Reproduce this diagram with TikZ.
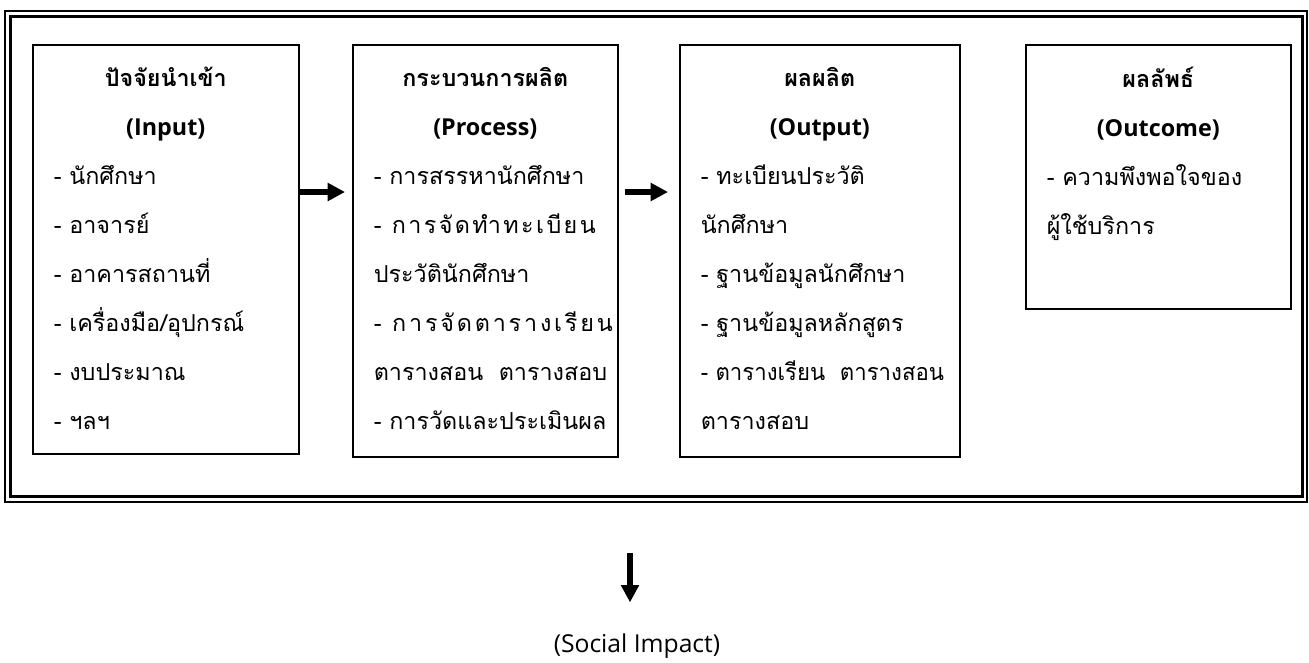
\documentclass[tikz,border=0pt]{standalone}
\usepackage{fontspec}
\usepackage{graphicx}
\setmainfont{Loma}[Script=Thai]
\newfontfamily\latin{Open Sans}
\usetikzlibrary{positioning,arrows.meta}
\newcommand{\punkt}[1]{\mbox{-~#1}}
\newcommand{\kopf}[1]{\hspace*{\fill}\textbf{#1}\hspace*{\fill}\mbox{}}
\tikzset{
  box/.style={draw, line width=1.2pt, inner sep=0pt, anchor=north west},
  boxtext/.style={inner sep=0pt, align=left, anchor=north,
    font=\fontsize{17.5}{36.75}\selectfont},
  flow/.style={-{Triangle[length=13pt,width=13pt]}, line width=5pt},
}
\begin{document}
\begin{tikzpicture}[x=0.75pt,y=-0.75pt]
  \useasboundingbox (0,0) rectangle (1309,662);
  % Rahmen
  \draw[line width=1pt] (5,11) rectangle (1307,502);
  \draw[line width=2.25pt] (10,16) rectangle (1302,496);
  % Kaesten
  \node[box, minimum width=199.5pt, minimum height=306.75pt] (input) at (32,44) {};
  \node[box, minimum width=198.75pt, minimum height=309pt] (process) at (352,44) {};
  \node[box, minimum width=210pt, minimum height=309pt] (output) at (679,44) {};
  \node[box, minimum width=198.75pt, minimum height=198pt] (outcome) at (1025,44) {};
  % Texte
  \node[boxtext, text width=168pt, below=17pt of input.north] (inputtext) {
    \kopf{ปัจจัยนำเข้า}\\
    \kopf{\latin (Input)}\\
    \punkt{นักศึกษา}\\
    \punkt{อาจารย์}\\
    \punkt{อาคารสถานที่}\\
    \punkt{เครื่องมือ/อุปกรณ์}\\
    \punkt{งบประมาณ}\\
    \punkt{ฯลฯ}};
  \node[boxtext, text width=167.25pt, below=17pt of process.north] (processtext) {
    \kopf{กระบวนการผลิต}\\
    \kopf{\latin (Process)}\\
    \punkt{การสรรหานักศึกษา}\\
    \makebox[166.5pt][s]{- \hfil ก\hfil า\hfil ร\hfil จั\hfil ด\hfil ทำ\hfil ท\hfil ะ\hfil เ\hfil บี\hfil ย\hfil น}\\
    ประวัตินักศึกษา\\
    \makebox[179.25pt][s]{- \hfil ก\hfil า\hfil ร\hfil จั\hfil ด\hfil ต\hfil า\hfil ร\hfil า\hfil ง\hfil เ\hfil รี\hfil ย\hfil น}\\
    \mbox{ตารางสอน~~ตารางสอบ}\\
    \punkt{การวัดและประเมินผล}};
  \node[boxtext, text width=178.5pt, below=17pt of output.north] (outputtext) {
    \kopf{ผลผลิต}\\
    \kopf{\latin (Output)}\\
    \punkt{ทะเบียนประวัติ}\\
    นักศึกษา\\
    \punkt{ฐานข้อมูลนักศึกษา}\\
    \punkt{ฐานข้อมูลหลักสูตร}\\
    \scalebox{0.95}[1]{\punkt{ตารางเรียน~~ตารางสอน}}\\
    ตารางสอบ};
  \node[boxtext, text width=167.25pt, below=17pt of outcome.north] (outcometext) {
    \kopf{ผลลัพธ์}\\
    \kopf{\latin (Outcome)}\\
    \punkt{ความพึงพอใจของ}\\
    ผู้ใช้บริการ};
  \node[anchor=base, inner sep=0pt, font=\latin\fontsize{18.5}{20}\selectfont] (impact) at (637,652) {(Social Impact)};
  % Pfeile
  \coordinate (arrowrow) at (0,192);
  \coordinate (impacttop) at (630,553);
  \draw[flow, shorten >=5.25pt] (input.east |- arrowrow) -- (process.west |- arrowrow);
  \draw[flow, shorten <=4.5pt, shorten >=8.25pt] (process.east |- arrowrow) -- (output.west |- arrowrow);
  \draw[flow, shorten >=23pt] (impacttop) -- (impacttop |- impact.north);
\end{tikzpicture}
\end{document}
